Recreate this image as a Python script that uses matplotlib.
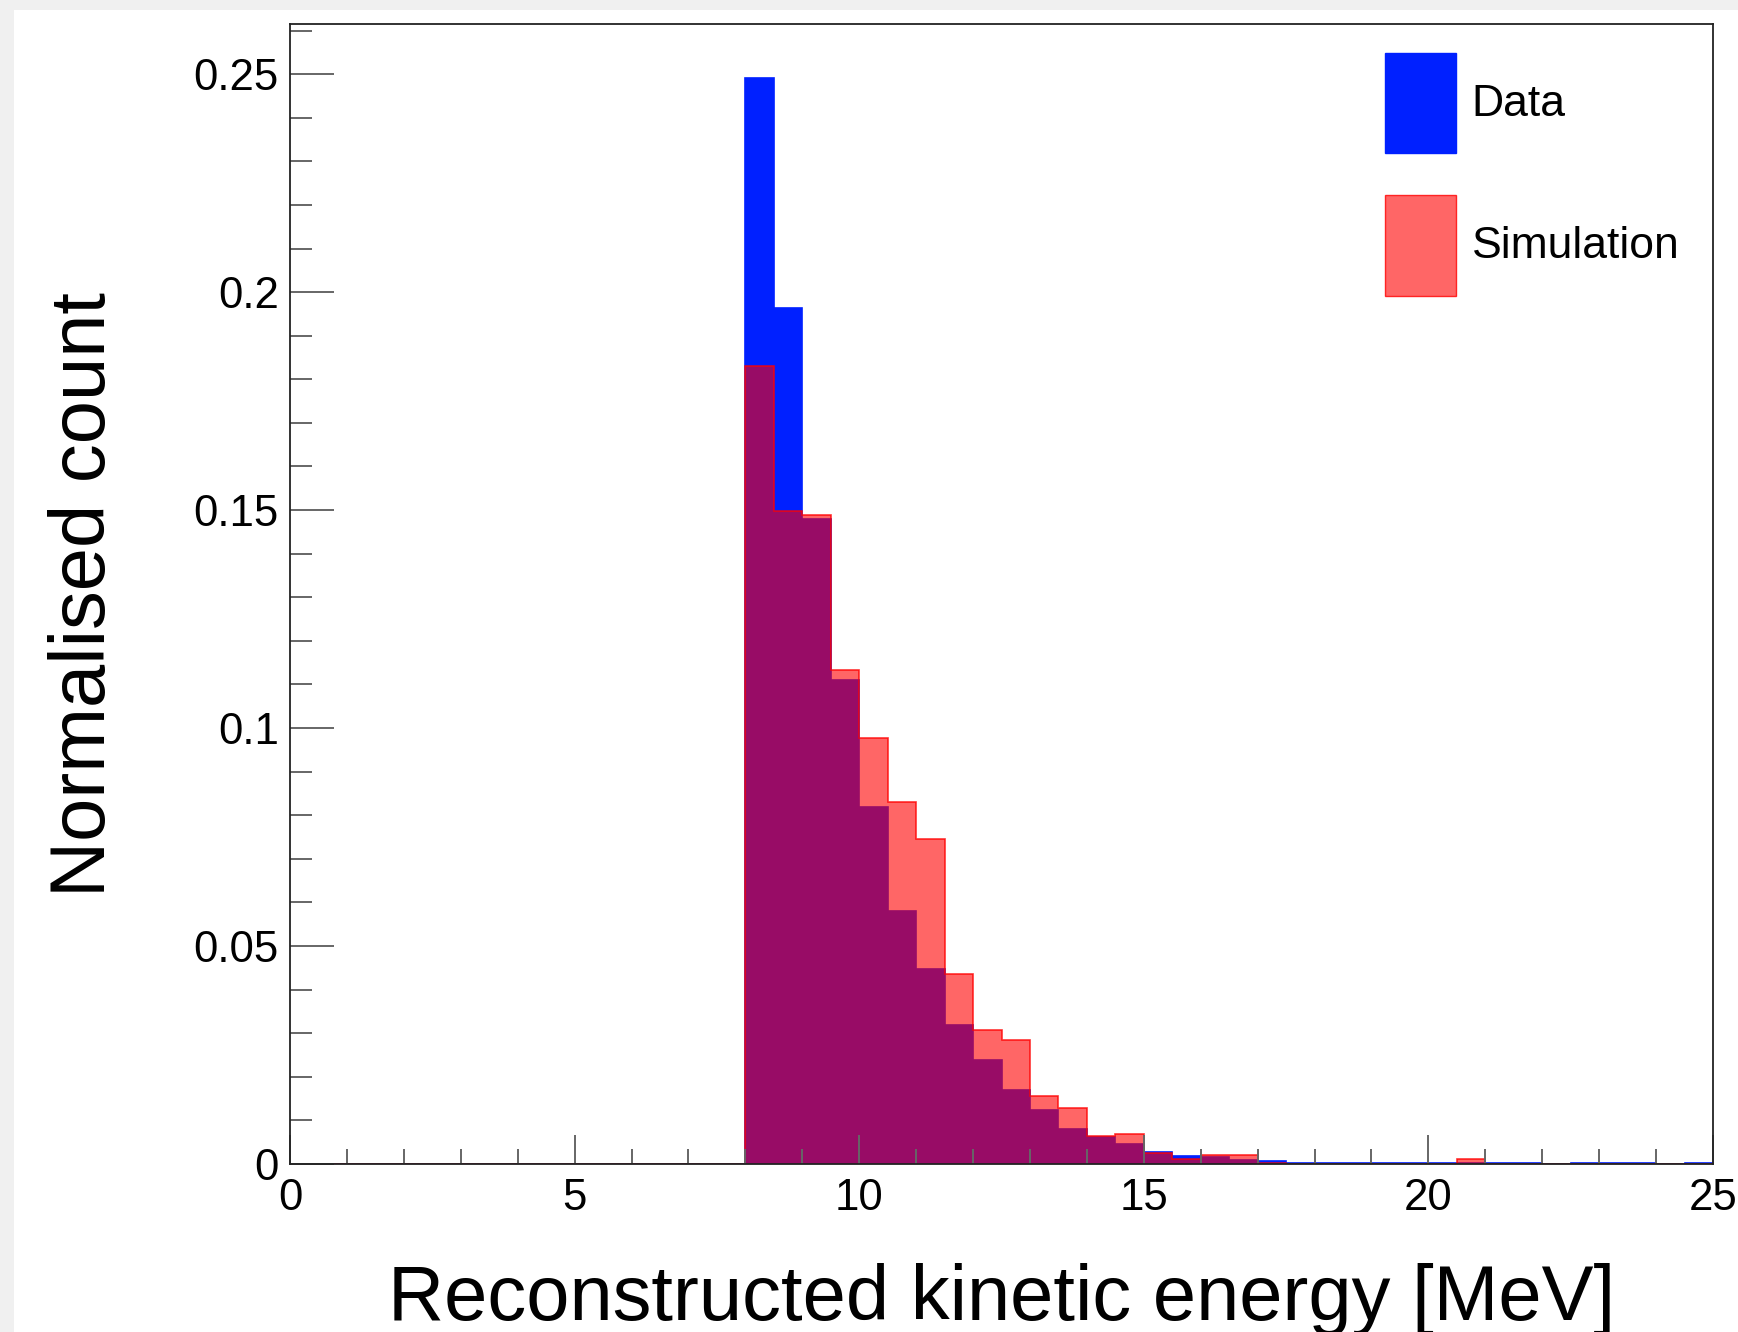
# Normalised reconstructed kinetic energy: data vs simulation (ROOT style)

import numpy as np
import matplotlib
matplotlib.use('Agg')
from matplotlib import pyplot as plt
from matplotlib.patches import Patch, Rectangle
from matplotlib.ticker import MultipleLocator, FuncFormatter

plt.rcParams['font.family'] = ['Liberation Sans', 'DejaVu Sans']

# Binning: 0.5 MeV bins from 0 to 25 MeV
bin_width = 0.5
n_bins = 50
edges = np.arange(n_bins + 1) * bin_width

# Normalised counts, bins below 8 MeV are empty
empty_low = [0.0] * 16
data_counts = empty_low + [
    0.2492, 0.1963, 0.1480, 0.1110, 0.0820, 0.0581, 0.0448, 0.0318,
    0.0238, 0.0170, 0.0125, 0.0081, 0.0061, 0.0046, 0.0027, 0.0018,
    0.0015, 0.0009, 0.0008, 0.0003, 0.0003, 0.0003, 0.0003, 0.0003,
    0.0003, 0.0003, 0.0003, 0.0003, 0.0000, 0.0003, 0.0003, 0.0003,
    0.0000, 0.0003]
sim_counts = empty_low + [
    0.1831, 0.1498, 0.1488, 0.1133, 0.0978, 0.0831, 0.0745, 0.0437,
    0.0308, 0.0284, 0.0157, 0.0129, 0.0064, 0.0070, 0.0026, 0.0011,
    0.0021, 0.0021, 0.0003, 0.0000, 0.0000, 0.0000, 0.0000, 0.0000,
    0.0000, 0.0011, 0.0000, 0.0000, 0.0000, 0.0000, 0.0000, 0.0000,
    0.0000, 0.0000]

labels = ['Data', 'Simulation']
blue = '#0020ff'
red_fill = (1.0, 0.0, 0.0, 0.6)
red_line = (1.0, 0.0, 0.0, 0.8)

# Figure
fig = plt.figure(figsize=(17.38, 13.32), dpi=100, facecolor='#f0f0f0')
fig.add_artist(Rectangle((14 / 1738, 0), 1, 1 - 10 / 1332, transform=fig.transFigure,
                         facecolor='white', edgecolor='none', zorder=-5))
ax = fig.add_axes([0.1669, 0.1261, 0.9856 - 0.1669, 0.982 - 0.1261])

ax.stairs(data_counts, edges, fill=True, facecolor=blue, edgecolor=blue, linewidth=1.2)
ax.stairs(sim_counts, edges, fill=True, facecolor=red_fill, edgecolor=red_line, linewidth=1.2)

ax.set_xlim(0, 25)
ax.set_ylim(0, 0.2615)

# Axes and ticks
for s in ax.spines.values():
    s.set_linewidth(1.3)
    s.set_color('#222222')
ax.xaxis.set_major_locator(MultipleLocator(5))
ax.xaxis.set_minor_locator(MultipleLocator(1))
ax.yaxis.set_major_locator(MultipleLocator(0.05))
ax.yaxis.set_minor_locator(MultipleLocator(0.01))
ax.yaxis.set_major_formatter(FuncFormatter(lambda v, p: '%g' % round(v, 3)))
ax.tick_params(which='both', direction='in', top=False, right=False,
               color='#666666', width=1.4, labelsize=31.5, labelcolor='black')
ax.tick_params(axis='y', which='major', length=32, pad=8)
ax.tick_params(axis='y', which='minor', length=16)
ax.tick_params(axis='x', which='major', length=21, pad=10)
ax.tick_params(axis='x', which='minor', length=11)

ax.set_xlabel('Reconstructed kinetic energy [MeV]', fontsize=56, labelpad=32)
ax.set_ylabel('Normalised count', fontsize=56, labelpad=52)

# Legend
handles = [Patch(facecolor=blue, edgecolor=blue),
           Patch(facecolor=red_fill, edgecolor=red_line)]
ax.legend(handles, labels, loc='upper left', bbox_to_anchor=(0.784, 0.977),
          bbox_transform=fig.transFigure, frameon=False, borderpad=0,
          handlelength=1.6, handleheight=3.1, handletextpad=0.35,
          labelspacing=0.94, fontsize=32)

fig.savefig('out.png', dpi=100)
